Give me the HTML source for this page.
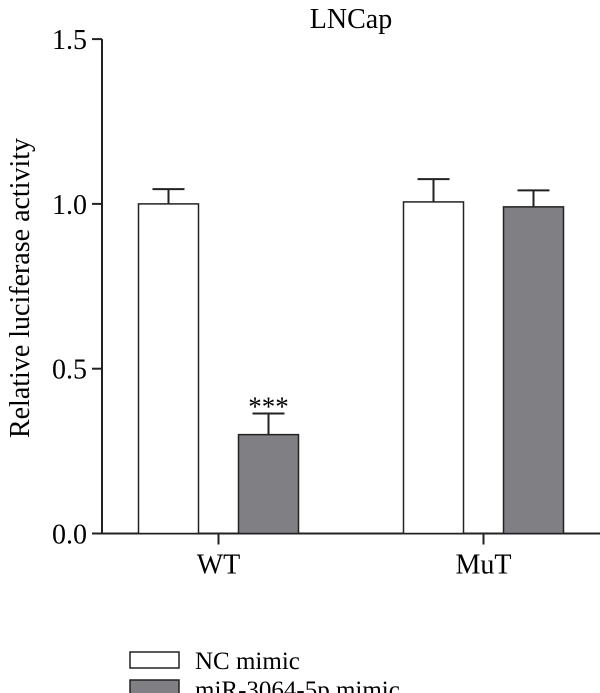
<!DOCTYPE html>
<html><head><meta charset="utf-8"><style>
html,body{margin:0;padding:0;background:#fff;}
svg{display:block;font-family:"Liberation Serif",serif;}
</style></head><body>
<svg id="chart" width="600" height="693">
<text x="351" y="28" font-size="28" text-anchor="middle">LNCap</text>
<text transform="translate(29,288) rotate(-90)" font-size="28" text-anchor="middle">Relative luciferase activity</text>
<g id="axes"></g>
<g id="bars"></g>
<g>
<rect x="130" y="652" width="49" height="16" fill="#fff" stroke="#222" stroke-width="1.5"/>
<text x="195" y="669" font-size="25">NC mimic</text>
<rect x="130" y="680" width="49" height="16" fill="#808084" stroke="#222" stroke-width="1.5"/>
<text x="195" y="698" font-size="25">miR-3064-5p mimic</text>
</g>
</svg>
<script>
const categories = ["WT", "MuT"];
const ncValues = [1.0, 1.006];
const ncErrors = [0.045, 0.069];
const mirValues = [0.30, 0.991];
const mirErrors = [0.064, 0.05];
const significance = ["***", ""];
const yTicks = [0, 0.5, 1.0, 1.5];
const yTickLabels = ["0.0", "0.5", "1.0", "1.5"];

const NS = "http://www.w3.org/2000/svg";
const x0 = 102, xEnd = 600, yZero = 533.5, pxPerUnit = 329.6;
const catCenters = [218.5, 483.5];
const barW = 60, barOffset = 50;
function y(v){ return yZero - v * pxPerUnit; }
function xCat(i){ return catCenters[i]; }
function mk(tag, attrs, parent){ const e=document.createElementNS(NS,tag); for(const k in attrs) e.setAttribute(k,attrs[k]); parent.appendChild(e); return e; }
const axes = document.getElementById("axes"), bars = document.getElementById("bars");

let yl = mk("line",{x1:x0,y1:y(1.5),x2:x0,y2:yZero,stroke:"#222","stroke-width":2},axes);


let xl = mk("line",{x1:x0-10,y1:yZero,x2:xEnd,y2:yZero,stroke:"#222","stroke-width":2},axes);


yTicks.forEach((t,i)=>{
  let tk = mk("line",{x1:x0-10,y1:y(t),x2:x0,y2:y(t),stroke:"#222","stroke-width":2},axes);
  
  
  let tl = mk("text",{x:x0-15,y:y(t)+10,"font-size":28,"text-anchor":"end"},axes);
  tl.textContent = yTickLabels[i];
  
  
});
categories.forEach((c,i)=>{
  let tk = mk("line",{x1:xCat(i),y1:yZero,x2:xCat(i),y2:yZero+11,stroke:"#222","stroke-width":2},axes);
  
  
  let tl = mk("text",{x:xCat(i),y:yZero+40,"font-size":28,"text-anchor":"middle"},axes);
  tl.textContent = c;
  
  
  [[ncValues,ncErrors,-barOffset,"#fff","nc"],[mirValues,mirErrors,barOffset,"#808084","mir"]].forEach(([vals,errs,off,fill,key])=>{
    const cx = xCat(i)+off, v = vals[i], e = errs[i];
    let el = mk("line",{x1:cx,y1:y(v),x2:cx,y2:y(v+e),stroke:"#222","stroke-width":2},bars);
    
    
    let cap = mk("line",{x1:cx-16,y1:y(v+e),x2:cx+16,y2:y(v+e),stroke:"#222","stroke-width":2},bars);
    
    
    let r = mk("rect",{x:cx-barW/2,y:y(v),width:barW,height:yZero-y(v),fill:fill,stroke:"#222","stroke-width":1.5},bars);
    
    
    if(key==="mir" && significance[i]){
      let s = mk("text",{x:cx,y:y(v+e)+2,"font-size":27,"text-anchor":"middle"},bars);
      s.textContent = significance[i];
      
      
    }
  });
});
</script>
</body></html>
